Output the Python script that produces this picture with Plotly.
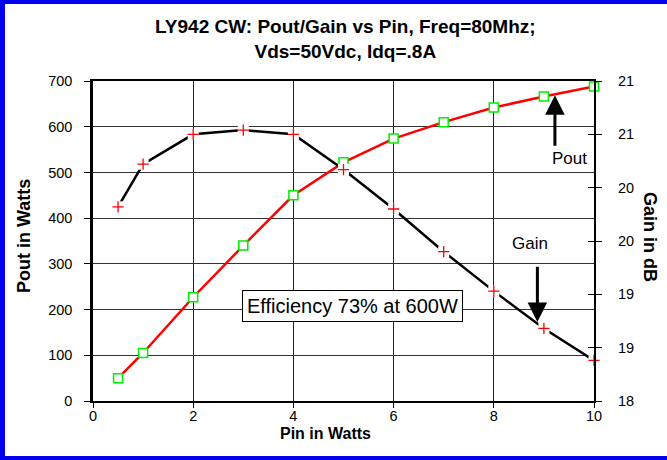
import plotly.graph_objects as go

pin = [0.5, 1, 2, 3, 4, 5, 6, 7, 8, 9, 10]
pout = [50, 105, 227, 340, 450, 522, 574, 610, 642, 666, 688]
gain = [19.82, 20.22, 20.50, 20.54, 20.50, 20.17, 19.80, 19.40, 19.03, 18.68, 18.38]

title_text = "LY942 CW: Pout/Gain vs Pin, Freq=80Mhz;<br>Vds=50Vdc, Idq=.8A"
FONT = "Arial, Liberation Sans, sans-serif"

W, H = 667, 460
ML, MR, MT, MB = 93, 73, 81, 59
PW, PH = W - ML - MR, H - MT - MB


def xp(px):
    return (px - ML) / PW


def yp(py):
    return (H - MB - py) / PH


fig = go.Figure()

# Gain line (black) with white patches around markers
fig.add_trace(go.Scatter(x=pin, y=gain, yaxis="y2", mode="lines",
                         line=dict(color="black", width=2.5), cliponaxis=False,
                         hoverinfo="skip", showlegend=False))
fig.add_trace(go.Scatter(x=pin, y=gain, yaxis="y2", mode="markers",
                         marker=dict(symbol="square", size=11, color="white", line=dict(width=0)),
                         cliponaxis=False, hoverinfo="skip", showlegend=False))
fig.add_trace(go.Scatter(x=pin, y=gain, yaxis="y2", mode="markers", name="Gain",
                         marker=dict(symbol="cross-thin", size=8, line=dict(color="red", width=1.3)),
                         cliponaxis=False, showlegend=False))
# Pout
fig.add_trace(go.Scatter(x=pin, y=pout, mode="lines+markers", name="Pout",
                         line=dict(color="#ff0000", width=2.5),
                         marker=dict(symbol="square", size=9, color="white",
                                     line=dict(color="#00ee00", width=1.5)),
                         cliponaxis=False, showlegend=False))

# invisible helper for inward ticks on right axis
fig.add_trace(go.Scatter(x=[None], y=[None], yaxis="y3", showlegend=False, hoverinfo="skip"))

axis_font = dict(family=FONT, size=14.5, color="black")

fig.update_layout(
    width=W, height=H,
    margin=dict(l=ML, r=MR, t=MT, b=MB, autoexpand=False),
    paper_bgcolor="white", plot_bgcolor="white",
    showlegend=False,
    xaxis=dict(range=[0, 10], dtick=2, tick0=0, showgrid=True, gridcolor="#222222", gridwidth=1,
               zeroline=False, showline=True, linecolor="black", linewidth=1.5, mirror=True,
               ticks="outside", ticklen=5, tickcolor="black", tickfont=axis_font,
               ticklabelstandoff=-4, automargin=False),
    yaxis=dict(range=[0, 700], dtick=100, tick0=0, showgrid=True, gridcolor="#333333", gridwidth=1,
               zeroline=False, showline=True, linecolor="black", linewidth=2.5,
               ticks="outside", ticklen=6, tickcolor="black", tickfont=axis_font,
               ticklabelstandoff=9, automargin=False),
    yaxis2=dict(range=[18, 21], dtick=0.5, tick0=18, tickformat=".0f", overlaying="y",
                side="right", anchor="x", showgrid=False, zeroline=False,
                showline=True, linecolor="black", linewidth=2,
                ticks="outside", ticklen=6, tickcolor="black", tickfont=axis_font,
                ticklabelstandoff=13, automargin=False),
    yaxis3=dict(range=[18, 21], dtick=0.5, tick0=18, overlaying="y", side="right", anchor="x",
                showgrid=False, zeroline=False, showline=False, showticklabels=False,
                ticks="inside", ticklen=6, tickcolor="black", automargin=False),
)

annotations = [
    dict(text=title_text, x=xp(345), y=yp(39), xref="paper", yref="paper",
         showarrow=False, xanchor="center", yanchor="middle",
         font=dict(family=FONT, size=19, color="black", weight="bold")),
    dict(text="Pout in Watts", x=xp(24), y=yp(236), xref="paper", yref="paper",
         showarrow=False, textangle=-90, xanchor="center", yanchor="middle",
         font=dict(family=FONT, size=18, color="black", weight="bold")),
    dict(text="Gain in dB", x=xp(650), y=yp(237), xref="paper", yref="paper",
         showarrow=False, textangle=90, xanchor="center", yanchor="middle",
         font=dict(family=FONT, size=18, color="black", weight="bold")),
    dict(text="Pin in Watts", x=xp(325), y=yp(433), xref="paper", yref="paper",
         showarrow=False, xanchor="center", yanchor="middle",
         font=dict(family=FONT, size=16, color="black", weight="bold")),
    dict(text="Efficiency 73% at 600W", x=5.18, y=208, xref="x", yref="y",
         showarrow=False, xanchor="center", yanchor="middle",
         bgcolor="white", bordercolor="black", borderwidth=1, borderpad=4,
         font=dict(family=FONT, size=20, color="black")),
    dict(text="Pout", x=xp(569), y=yp(158), xref="paper", yref="paper",
         showarrow=False, xanchor="center", yanchor="middle",
         font=dict(family=FONT, size=17, color="black")),
    dict(text="Gain", x=xp(530), y=yp(243), xref="paper", yref="paper",
         showarrow=False, xanchor="center", yanchor="middle",
         font=dict(family=FONT, size=17, color="black")),
    # arrows
    dict(text="", x=9.22, y=669, ax=9.22, ay=555, xref="x", yref="y", axref="x", ayref="y",
         showarrow=True, arrowhead=2, arrowsize=1.3, arrowwidth=3, arrowcolor="black"),
    dict(text="", x=8.87, y=173, ax=8.87, ay=297, xref="x", yref="y", axref="x", ayref="y",
         showarrow=True, arrowhead=2, arrowsize=1.3, arrowwidth=3, arrowcolor="black"),
]
fig.update_layout(annotations=annotations)

# blue frame (left, top, bottom)
blue = "#0000ee"
fig.add_shape(type="line", xref="paper", yref="paper", x0=xp(2.5), x1=xp(2.5), y0=yp(0), y1=yp(H),
              line=dict(color=blue, width=5))
fig.add_shape(type="line", xref="paper", yref="paper", x0=xp(0), x1=xp(W + 5), y0=yp(2), y1=yp(2),
              line=dict(color=blue, width=4))
fig.add_shape(type="line", xref="paper", yref="paper", x0=xp(0), x1=xp(W + 5), y0=yp(458), y1=yp(458),
              line=dict(color=blue, width=4))

fig.write_html("out.html",
               config={"displayModeBar": False},
               post_script="document.body.style.margin='0';document.body.style.padding='0';")
